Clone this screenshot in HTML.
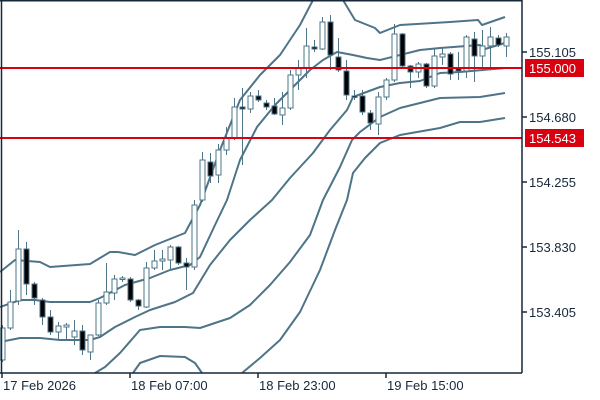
<!DOCTYPE html>
<html><head><meta charset="utf-8"><style>
html,body{margin:0;padding:0;background:#fff;}
svg{display:block;font-family:"Liberation Sans",sans-serif;}
</style></head><body>
<svg width="600" height="400" viewBox="0 0 600 400" xmlns="http://www.w3.org/2000/svg">
<rect width="600" height="400" fill="#fff"/>
<g fill="none" stroke="#4e7488" stroke-width="2" stroke-linejoin="round">
<polyline points="0,272 15,260 40,262 50,267 90,264 110,252 118,252 135,255 155,245 185,233 200,205 220,150 240,100 260,75 280,55 300,25 313,0"/>
<polyline points="343,0 355,20 375,28 380,33 400,25 450,22 478,20 482,25 505,17"/>
<polyline points="0,307 20,300 35,300 50,302 90,302 100,298 125,285 150,278 170,270 190,265 200,257 215,225 227,200 240,160 257,127 275,105 290,90 310,70 323,60 337,52 353,55 367,58 380,60 420,50 440,48 480,45 485,49 505,43"/>
<polyline points="0,342 20,338 40,338 60,340 90,340 100,337 115,327 135,317 150,310 175,302 193,293 210,265 230,240 250,220 272,200 290,178 313,153 330,130 347,110 353,97 380,87 400,83 420,81 440,73 460,72 505,68"/>
<polyline points="95,373 105,367 120,353 140,330 160,327 185,327 200,328 230,318 250,305 270,285 290,262 310,235 323,200 340,167 352,140 360,132 380,117 400,108 440,98 480,97 505,93"/>
<polyline points="133,373 140,363 160,356 185,357 195,363 202,373"/>
<polyline points="242,373 260,358 280,340 300,312 320,270 335,230 347,200 353,173 365,158 380,143 400,135 440,128 460,122 480,122 505,118"/>
</g>
<g stroke="#4e7488" stroke-width="1">
<path d="M2.5,325V362M10.5,290V330M18.5,230V305M26.5,242V295M34.5,282V305M42.5,298V325M50.5,310V335M58.5,322V340M66.5,323V340M74.5,320V345M82.5,325V355M90.5,335V360M98.5,300V336M106.5,263V305M114.5,275V300M122.5,276V282M130.5,277V302M138.5,299V310M146.5,262V308M154.5,250V270M162.5,250V270M170.5,245V270M178.5,246V265M186.5,258V290M194.5,200V270M202.5,152V202M210.5,153V183M218.5,144V183M226.5,127V155M234.5,98V140M242.5,88V165M250.5,92V113M258.5,90V102M266.5,100V110M274.5,98V115M282.5,92V125M290.5,70V110M298.5,60V90M306.5,28V78M314.5,40V52M322.5,17V50M330.5,15V70M338.5,38V72M346.5,60V100M354.5,90V100M362.5,90V115M370.5,110V130M378.5,92V135M386.5,78V100M394.5,24V82M402.5,33V68M410.5,65V88M418.5,62V78M426.5,63V88M434.5,48V88M442.5,48V65M450.5,52V80M458.5,52V80M466.5,35V78M474.5,32V82M482.5,30V68M490.5,27V68M498.5,35V47M506.5,33V57"/>
<g fill="#fff">
<rect x="0" y="328" width="5" height="32"/>
<rect x="8" y="302" width="5" height="26"/>
<rect x="16" y="249" width="5" height="52"/>
<rect x="56" y="326" width="5" height="6"/>
<rect x="64" y="325" width="5" height="2"/>
<rect x="72" y="331" width="5" height="6"/>
<rect x="88" y="335" width="5" height="17"/>
<rect x="96" y="303" width="5" height="32"/>
<rect x="104" y="292" width="5" height="11"/>
<rect x="112" y="279" width="5" height="14"/>
<rect x="120" y="278" width="5" height="1.5"/>
<rect x="144" y="268" width="5" height="39"/>
<rect x="152" y="261" width="5" height="7"/>
<rect x="160" y="259" width="5" height="2"/>
<rect x="168" y="247" width="5" height="13"/>
<rect x="192" y="205" width="5" height="62"/>
<rect x="200" y="160" width="5" height="40"/>
<rect x="216" y="150" width="5" height="25"/>
<rect x="224" y="138" width="5" height="12"/>
<rect x="232" y="107" width="5" height="31"/>
<rect x="248" y="96" width="5" height="13"/>
<rect x="280" y="108" width="5" height="7"/>
<rect x="288" y="75" width="5" height="33"/>
<rect x="296" y="68" width="5" height="7"/>
<rect x="304" y="46" width="5" height="22"/>
<rect x="320" y="22" width="5" height="27"/>
<rect x="376" y="97" width="5" height="27"/>
<rect x="384" y="80" width="5" height="17"/>
<rect x="392" y="34" width="5" height="46"/>
<rect x="416" y="64" width="5" height="8"/>
<rect x="432" y="56" width="5" height="30"/>
<rect x="440" y="54" width="5" height="3"/>
<rect x="464" y="37" width="5" height="34"/>
<rect x="480" y="46" width="5" height="10"/>
<rect x="488" y="37" width="5" height="9"/>
<rect x="504" y="37" width="5" height="9"/>
</g>
<g fill="#000">
<rect x="24" y="249" width="5" height="35"/>
<rect x="32" y="284" width="5" height="14"/>
<rect x="40" y="300" width="5" height="17"/>
<rect x="48" y="317" width="5" height="15"/>
<rect x="80" y="331" width="5" height="19"/>
<rect x="128" y="279" width="5" height="21"/>
<rect x="136" y="300" width="5" height="6"/>
<rect x="176" y="247" width="5" height="16"/>
<rect x="184" y="263" width="5" height="4"/>
<rect x="208" y="162" width="5" height="14"/>
<rect x="240" y="107" width="5" height="2"/>
<rect x="256" y="96" width="5" height="4"/>
<rect x="264" y="103" width="5" height="4"/>
<rect x="272" y="106" width="5" height="8"/>
<rect x="312" y="47" width="5" height="2"/>
<rect x="328" y="22" width="5" height="33"/>
<rect x="336" y="57" width="5" height="13"/>
<rect x="344" y="71" width="5" height="24"/>
<rect x="352" y="96" width="5" height="1.5"/>
<rect x="360" y="96" width="5" height="16"/>
<rect x="368" y="113" width="5" height="10"/>
<rect x="400" y="34" width="5" height="32"/>
<rect x="408" y="66" width="5" height="6"/>
<rect x="424" y="64" width="5" height="22"/>
<rect x="448" y="54" width="5" height="20"/>
<rect x="456" y="68" width="5" height="3"/>
<rect x="472" y="39" width="5" height="17"/>
<rect x="496" y="38" width="5" height="7"/>
</g>
</g>
<line x1="0" y1="68" x2="522" y2="68" stroke="#d9000f" stroke-width="2"/>
<line x1="0" y1="138" x2="522" y2="138" stroke="#d9000f" stroke-width="2"/>
<g stroke="#17283a" stroke-width="1.5" fill="none">
<line x1="1.5" y1="0" x2="1.5" y2="373"/>
<line x1="0" y1="373" x2="522" y2="373"/>
<line x1="522" y1="0" x2="522" y2="373"/>
<line x1="0" y1="0.75" x2="522" y2="0.75"/>
<line x1="522" y1="52" x2="527" y2="52"/><line x1="522" y1="117" x2="527" y2="117"/>
<line x1="522" y1="182" x2="527" y2="182"/><line x1="522" y1="247" x2="527" y2="247"/>
<line x1="522" y1="312" x2="527" y2="312"/>
<line x1="2" y1="373" x2="2" y2="378"/><line x1="130" y1="373" x2="130" y2="378"/>
<line x1="258" y1="373" x2="258" y2="378"/><line x1="386" y1="373" x2="386" y2="378"/>
</g>
<g font-size="13" fill="#17283a">
<text x="529" y="57">155.105</text>
<text x="529" y="122">154.680</text>
<text x="529" y="187">154.255</text>
<text x="529" y="252">153.830</text>
<text x="529" y="317">153.405</text>
<text x="3" y="390">17 Feb 2026</text>
<text x="131" y="390">18 Feb 07:00</text>
<text x="259" y="390">18 Feb 23:00</text>
<text x="387" y="390">19 Feb 15:00</text>
</g>
<rect x="525" y="59" width="59" height="18" fill="#d9000f"/>
<rect x="525" y="129" width="59" height="18" fill="#d9000f"/>
<g font-size="13" fill="#fff">
<text x="529" y="73">155.000</text>
<text x="529" y="143">154.543</text>
</g>
</svg>
</body></html>
